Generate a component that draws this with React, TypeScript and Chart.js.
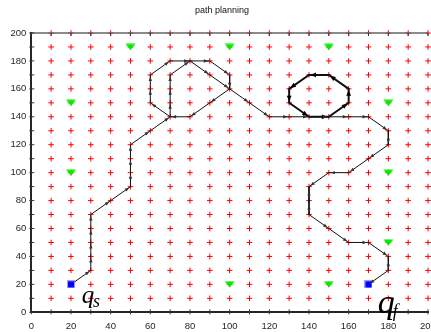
import React, { useEffect, useRef } from "react";
import { Chart, registerables } from "chart.js";
Chart.register(...registerables);

// ---- data ----
const titleText = "path planning";
const xTickValues = [0, 20, 40, 60, 80, 100, 120, 140, 160, 180, 200];
const yTickValues = [0, 20, 40, 60, 80, 100, 120, 140, 160, 180, 200];
const minorTickValues = [0, 10, 20, 30, 40, 50, 60, 70, 80, 90, 100, 110, 120, 130, 140, 150, 160, 170, 180, 190, 200];
const gridXs = [10, 20, 30, 40, 50, 60, 70, 80, 90, 100, 110, 120, 130, 140, 150, 160, 170, 180, 190, 200];
const gridYs = [10, 20, 30, 40, 50, 60, 70, 80, 90, 100, 110, 120, 130, 140, 150, 160, 170, 180, 190, 200];
const obstacleX = [50, 100, 150, 20, 180, 20, 180, 180, 100, 150];
const obstacleY = [190, 190, 190, 150, 150, 100, 100, 50, 20, 20];
const endpointX = [20, 170];
const endpointY = [20, 20];
const pathX = [20, 30, 30, 30, 30, 30, 40, 50, 50, 50, 50, 60, 70, 70, 70, 70, 80, 90, 100, 90, 80, 70, 60, 60, 60, 70, 80, 90, 100, 100, 110, 120, 130, 140, 150, 160, 160, 150, 140, 130, 130, 140, 150, 160, 170, 180, 180, 170, 160, 150, 140, 140, 140, 150, 160, 170, 180, 180, 170];
const pathY = [20, 30, 40, 50, 60, 70, 80, 90, 100, 110, 120, 130, 140, 150, 160, 170, 180, 170, 160, 150, 140, 140, 150, 160, 170, 180, 180, 180, 170, 160, 150, 140, 140, 140, 140, 150, 160, 170, 170, 160, 150, 140, 140, 140, 140, 130, 120, 110, 100, 100, 90, 80, 70, 60, 50, 50, 40, 30, 20];
const loopStart = 33;
const loopEnd = 41;
const startLabel = { x: 25.4, y: 6.7, main: "q", sub: "s" };
const finishLabel = { x: 174.7, y: -0.5, main: "q", sub: "f" };

const FONT = "'Liberation Sans', Arial, Helvetica, sans-serif";
const SERIF = "'Liberation Serif', 'Times New Roman', serif";

function makeTriangle() {
  const c = document.createElement("canvas");
  c.width = 11;
  c.height = 7;
  const g = c.getContext("2d")!;
  g.fillStyle = "#00ee00";
  g.beginPath();
  g.moveTo(0.5, 0.5);
  g.lineTo(10.5, 0.5);
  g.lineTo(5.5, 6.5);
  g.closePath();
  g.fill();
  return c;
}

function makeSquare() {
  const c = document.createElement("canvas");
  c.width = 8;
  c.height = 8;
  const g = c.getContext("2d")!;
  g.fillStyle = "rgba(90,90,255,0.6)";
  g.fillRect(0, 0, 8, 8);
  g.fillStyle = "#0000ff";
  g.fillRect(1, 1, 6, 6);
  return c;
}

const decorPlugin = {
  id: "decor",
  afterDatasetsDraw(chart: any) {
    const { ctx } = chart;
    const xs = chart.scales.x;
    const ys = chart.scales.y;
    ctx.save();
    for (let i = 1; i < pathX.length; i++) {
      const x0 = xs.getPixelForValue(pathX[i - 1]);
      const y0 = ys.getPixelForValue(pathY[i - 1]);
      const x1 = xs.getPixelForValue(pathX[i]);
      const y1 = ys.getPixelForValue(pathY[i]);
      const dx = x1 - x0, dy = y1 - y0;
      const len = Math.hypot(dx, dy);
      const ux = dx / len, uy = dy / len;
      const thick = i - 1 >= loopStart && i - 1 < loopEnd;
      const L = thick ? 5.5 : 4.5;
      const hw = thick ? 2.4 : 1.7;
      ctx.fillStyle = thick ? "#000" : "#333";
      const tx = x1 - ux * 1.5, ty = y1 - uy * 1.5;
      const bx = tx - ux * L, by = ty - uy * L;
      ctx.beginPath();
      ctx.moveTo(tx, ty);
      ctx.lineTo(bx - uy * hw, by + ux * hw);
      ctx.lineTo(bx + uy * hw, by - ux * hw);
      ctx.closePath();
      ctx.fill();
    }
    ctx.restore();
  },
  afterDraw(chart: any) {
    const { ctx, chartArea } = chart;
    const xs = chart.scales.x;
    const ys = chart.scales.y;
    ctx.save();
    // top border
    ctx.strokeStyle = "#666";
    ctx.lineWidth = 1.5;
    ctx.beginPath();
    ctx.moveTo(chartArea.left, chartArea.top);
    ctx.lineTo(chartArea.right, chartArea.top);
    ctx.stroke();
    // minor ticks
    ctx.strokeStyle = "#333";
    ctx.lineWidth = 1;
    ctx.beginPath();
    for (const v of minorTickValues) {
      const px = xs.getPixelForValue(v);
      ctx.moveTo(px, chartArea.bottom + 2);
      ctx.lineTo(px, chartArea.bottom - 3);
      ctx.moveTo(px, chartArea.top);
      ctx.lineTo(px, chartArea.top + 3);
      const py = ys.getPixelForValue(v);
      ctx.moveTo(chartArea.left - 2, py);
      ctx.lineTo(chartArea.left + 3, py);
    }
    ctx.stroke();
    // title
    ctx.fillStyle = "#111";
    ctx.font = `9px ${FONT}`;
    ctx.textAlign = "center";
    ctx.textBaseline = "middle";
    ctx.fillText(titleText, 222, 11);
    // q labels
    ctx.textAlign = "left";
    ctx.textBaseline = "alphabetic";
    ctx.fillStyle = "#000";
    const lbls = [
      { l: startLabel, big: 25, small: 18, dx: 11.3, dy: 3.8 },
      { l: finishLabel, big: 34, small: 18, dx: 15, dy: 3.6 },
    ];
    for (const o of lbls) {
      const px = xs.getPixelForValue(o.l.x);
      const py = ys.getPixelForValue(o.l.y);
      ctx.font = `italic ${o.big}px ${SERIF}`;
      ctx.fillText(o.l.main, px, py);
      ctx.font = `italic ${o.small}px ${SERIF}`;
      ctx.fillText(o.l.sub, px + o.dx, py + o.dy);
    }
    ctx.restore();
  },
};

export default function App() {
  const ref = useRef<HTMLCanvasElement | null>(null);
  useEffect(() => {
    if (!ref.current) return;
    const gridPts: { x: number; y: number }[] = [];
    for (const gx of gridXs) for (const gy of gridYs) gridPts.push({ x: gx, y: gy });
    const obstacles = obstacleX.map((x, i) => ({ x, y: obstacleY[i] }));
    const endpoints = endpointX.map((x, i) => ({ x, y: endpointY[i] }));
    const path = pathX.map((x, i) => ({ x, y: pathY[i] }));
    const tri = makeTriangle();
    const sq = makeSquare();
    const chart = new Chart(ref.current, {
      type: "scatter",
      data: {
        datasets: [
          {
            data: endpoints,
            pointStyle: sq as any,
            pointRadius: 4,
            order: 0,
            clip: false as any,
          },
          {
            data: obstacles,
            pointStyle: tri as any,
            pointRadius: 5,
            order: 1,
            clip: false as any,
          },
          {
            data: path,
            showLine: true,
            pointRadius: 0,
            borderColor: "#111",
            borderWidth: 1,
            tension: 0,
            order: 2,
            segment: {
              borderWidth: (c: any) => (c.p0DataIndex >= loopStart && c.p0DataIndex < loopEnd ? 2 : 1),
            },
          } as any,
          {
            data: gridPts,
            pointStyle: "cross",
            pointRadius: 2.8,
            borderColor: "#ff0000",
            borderWidth: 1,
            order: 3,
            clip: false as any,
          },
        ],
      },
      options: {
        responsive: false,
        maintainAspectRatio: false,
        devicePixelRatio: 1,
        animation: false,
        events: [],
        layout: { padding: { left: 0, right: 16, top: 33, bottom: 0 } },
        plugins: { legend: { display: false }, tooltip: { enabled: false }, title: { display: false } },
        scales: {
          x: {
            type: "linear",
            min: 0,
            max: 200,
            afterFit: (s: any) => {
              s.height = 19.7;
            },
            afterBuildTicks: (s: any) => {
              s.ticks = xTickValues.map((v) => ({ value: v }));
            },
            grid: { display: false, drawTicks: false },
            border: { display: true, color: "#262626", width: 2 },
            ticks: {
              padding: 8,
              color: "#262626",
              font: { family: FONT, size: 9.5 },
              maxRotation: 0,
              autoSkip: false,
            },
          },
          y: {
            type: "linear",
            min: 0,
            max: 200,
            afterFit: (s: any) => {
              s.width = 31.3;
            },
            afterBuildTicks: (s: any) => {
              s.ticks = yTickValues.map((v) => ({ value: v }));
            },
            grid: { display: false, drawTicks: false },
            border: { display: true, color: "#262626", width: 2 },
            ticks: {
              padding: 5,
              color: "#262626",
              font: { family: FONT, size: 9.5 },
              autoSkip: false,
            },
          },
        },
      },
      plugins: [decorPlugin],
    });
    return () => chart.destroy();
  }, []);
  return (
    <div style={{ position: "fixed", left: 0, top: 0, width: 431, height: 332, overflow: "hidden", background: "#fff" }}>
      <canvas ref={ref} width={444} height={332} style={{ display: "block", width: 444, height: 332 }} />
    </div>
  );
}
